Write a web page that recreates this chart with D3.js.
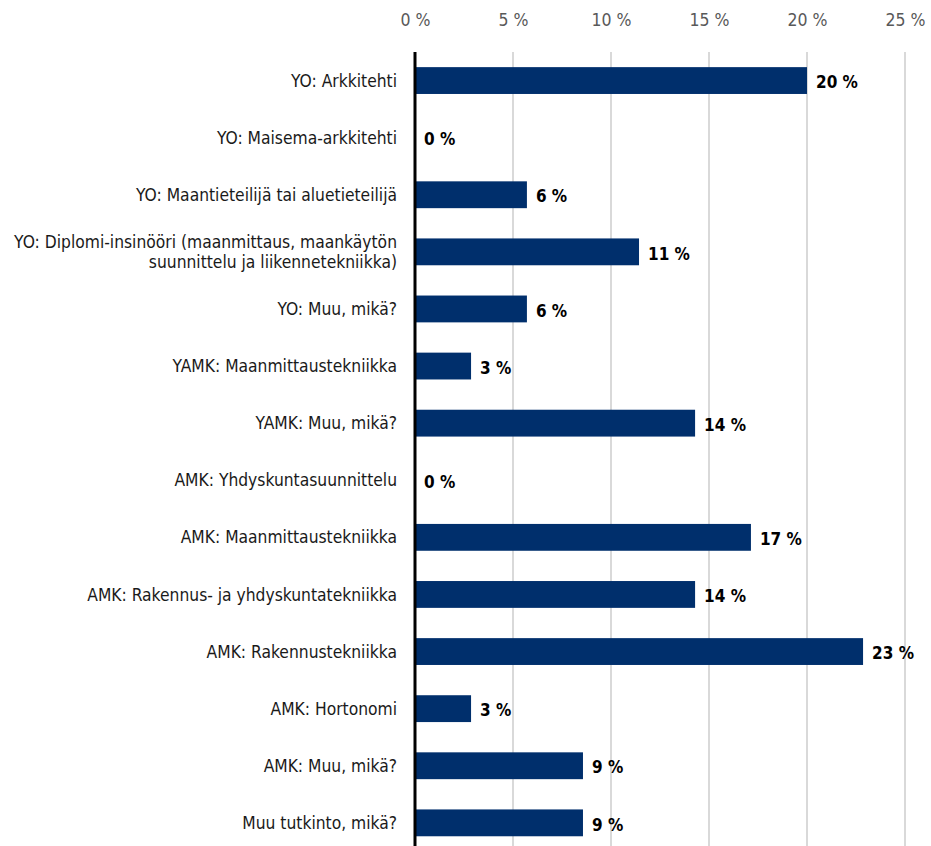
<!DOCTYPE html>
<html>
<head>
<meta charset="utf-8">
<script src="https://cdn.jsdelivr.net/npm/d3@7"></script>
<style>
  body { margin: 0; background: #fff; }
  svg text { font-family: "Liberation Sans Narrow", "DejaVu Sans Condensed", sans-serif; }
</style>
</head>
<body>
<svg></svg>
<script>
// categories, one per row, top to bottom (line breaks marked with |)
var categories = [
  'YO: Arkkitehti',
  'YO: Maisema-arkkitehti',
  'YO: Maantieteilijä tai aluetieteilijä',
  'YO: Diplomi-insinööri (maanmittaus, maankäytön|suunnittelu ja liikennetekniikka)',
  'YO: Muu, mikä?',
  'YAMK: Maanmittaustekniikka',
  'YAMK: Muu, mikä?',
  'AMK: Yhdyskuntasuunnittelu',
  'AMK: Maanmittaustekniikka',
  'AMK: Rakennus- ja yhdyskuntatekniikka',
  'AMK: Rakennustekniikka',
  'AMK: Hortonomi',
  'AMK: Muu, mikä?',
  'Muu tutkinto, mikä?'
];
// share of respondents, percent
var values = [20.0, 0, 5.71, 11.43, 5.71, 2.86, 14.29, 0, 17.14, 14.29, 22.86, 2.86, 8.57, 8.57];
var tickValues = [0, 5, 10, 15, 20, 25];

var svgWidth = 931, svgHeight = 846;
var margin = { top: 52, left: 415, right: 26 };

var svg = d3.select('svg').attr('width', svgWidth).attr('height', svgHeight);

var x = d3.scaleLinear().domain([0, 25]).range([margin.left, margin.left + 490]);
var y = d3.scaleBand().domain(d3.range(categories.length))
          .range([margin.top, margin.top + 57.1 * categories.length])
          .paddingInner(0.53).paddingOuter(0.265);

// grid lines
svg.append('g').selectAll('line')
   .data(tickValues.slice(1))
   .enter().append('line')
   .attr('x1', function(d) { return x(d); })
   .attr('x2', function(d) { return x(d); })
   .attr('y1', margin.top).attr('y2', svgHeight)
   .attr('stroke', '#d9d9d9').attr('stroke-width', 2);

// top axis
var xAxis = d3.axisTop(x).tickValues(tickValues)
              .tickFormat(function(d) { return d + ' %'; })
              .tickSize(0).tickPadding(0);
var ax = svg.append('g').attr('transform', 'translate(0,28)').call(xAxis);
ax.select('.domain').remove();
ax.selectAll('text').attr('fill', '#595959').attr('font-size', 17.5)
  .attr('dy', '0.32em').attr('y', -8);

// bars
svg.append('g').selectAll('rect')
   .data(values)
   .enter().append('rect')
   .attr('x', x(0))
   .attr('y', function(d, i) { return y(i); })
   .attr('width', function(d) { return x(d) - x(0); })
   .attr('height', y.bandwidth())
   .attr('fill', '#002f6c');

// value labels
svg.append('g').selectAll('text')
   .data(values)
   .enter().append('text')
   .attr('x', function(d) { return x(d) + 9; })
   .attr('y', function(d, i) { return y(i) + y.bandwidth() / 2; })
   .attr('dy', '0.45em')
   .attr('font-size', 17).attr('font-weight', 'bold').attr('fill', '#000')
   .text(function(d) { return Math.round(d) + ' %'; });

// category labels
var cat = svg.append('g').selectAll('text')
   .data(categories)
   .enter().append('text')
   .attr('text-anchor', 'end')
   .attr('font-size', 17.3).attr('fill', '#1a1a1a')
   .attr('y', function(d, i) { return y(i) + y.bandwidth() / 2; });
cat.each(function(d) {
  var lines = d.split('|');
  var t = d3.select(this);
  lines.forEach(function(line, k) {
    t.append('tspan')
     .attr('x', x(0) - 18)
     .attr('dy', k === 0 ? (0.35 - (lines.length - 1) * 0.6) + 'em' : '1.2em')
     .text(line);
  });
});

// zero line
svg.append('line')
   .attr('x1', x(0)).attr('x2', x(0))
   .attr('y1', margin.top).attr('y2', svgHeight)
   .attr('stroke', '#000').attr('stroke-width', 3);
</script>
</body>
</html>
